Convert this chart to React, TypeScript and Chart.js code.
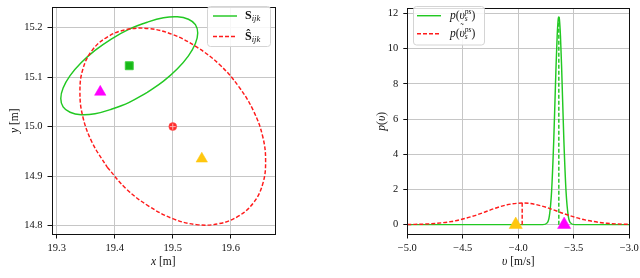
import React, { useEffect, useRef } from 'react';
import { Chart, registerables } from 'chart.js';
Chart.register(...registerables);

const FONT = "'Liberation Serif', 'DejaVu Serif', serif";

// ---------- left panel data ----------
const leftXTicks = [19.3, 19.4, 19.5, 19.6];
const leftYTicks = [14.8, 14.9, 15.0, 15.1, 15.2];

const sEllipseX = [19.456, 19.484, 19.508, 19.527, 19.539, 19.543, 19.539, 19.527, 19.508, 19.484, 19.456, 19.425, 19.394, 19.366, 19.342, 19.323, 19.311, 19.307, 19.311, 19.323, 19.342, 19.366, 19.394, 19.425, 19.456];
const sEllipseY = [15.069, 15.092, 15.117, 15.143, 15.168, 15.189, 15.206, 15.217, 15.222, 15.220, 15.211, 15.197, 15.177, 15.154, 15.129, 15.103, 15.078, 15.057, 15.040, 15.029, 15.024, 15.026, 15.035, 15.049, 15.069];

const sHatEllipseX = [19.387, 19.420, 19.459, 19.500, 19.541, 19.580, 19.613, 19.639, 19.655, 19.660, 19.655, 19.639, 19.613, 19.580, 19.541, 19.500, 19.459, 19.420, 19.387, 19.361, 19.345, 19.340, 19.345, 19.361, 19.387];
const sHatEllipseY = [14.918, 14.874, 14.839, 14.814, 14.802, 14.804, 14.819, 14.846, 14.884, 14.930, 14.980, 15.032, 15.082, 15.126, 15.161, 15.186, 15.198, 15.196, 15.181, 15.154, 15.116, 15.070, 15.020, 14.968, 14.918];

const squarePos = [19.425, 15.123];
const circlePos = [19.5, 15.0];
const magentaPos = [19.375, 15.07];
const yellowPos = [19.55, 14.935];

// ---------- right panel data ----------
const rightXTicks = [-5.0, -4.5, -4.0, -3.5, -3.0];
const rightYTicks = [0, 2, 4, 6, 8, 10, 12];

const greenPdfV = [-5.0, -3.78, -3.74, -3.72, -3.70, -3.68, -3.66, -3.65, -3.64, -3.635, -3.63, -3.62, -3.61, -3.59, -3.57, -3.55, -3.53, -3.49, -3.0];
const greenPdfP = [0, 0, 0.1, 0.5, 1.9, 4.9, 9.0, 10.7, 11.7, 11.8, 11.7, 10.7, 9.0, 4.9, 1.9, 0.5, 0.1, 0, 0];

const redPdfV = [-5.0, -4.8, -4.6, -4.5, -4.4, -4.3, -4.2, -4.1, -4.0, -3.965, -3.9, -3.8, -3.7, -3.6, -3.5, -3.4, -3.2, -3.0];
const redPdfP = [0.008, 0.045, 0.18, 0.32, 0.50, 0.72, 0.95, 1.13, 1.22, 1.23, 1.21, 1.08, 0.88, 0.65, 0.44, 0.27, 0.077, 0.015];

const greenMean = [-3.635, 11.8];
const redMean = [-3.965, 1.23];
const yellowV = [-4.023, 0];
const magentaV = [-3.587, 0];

// ---------- styles ----------
const GREEN = '#22c822';
const RED = '#ff1a1a';
const MAGENTA = '#ff00ff';
const YELLOW = '#ffc70f';
const GRID = '#c6c6c6';
const INK = '#111111';
const LW = 1.45;

const pts = (xs: number[], ys: number[]) => xs.map((x, i) => ({ x, y: ys[i] }));

type Run = { t: string; font: string; dy?: number; stack?: boolean; over?: boolean };

function layoutRuns(ctx: CanvasRenderingContext2D, runs: Run[], x: number, y: number, draw: boolean) {
  let cx = x;
  let prevStart = x;
  let prevW = 0;
  for (const r of runs) {
    ctx.font = r.font;
    const w = ctx.measureText(r.t).width;
    let sx: number;
    if (r.over) {
      sx = prevStart + (prevW - w) / 2;
      if (draw) ctx.fillText(r.t, sx, y + (r.dy || 0));
      continue;
    }
    if (r.stack) {
      sx = prevStart;
      if (draw) ctx.fillText(r.t, sx, y + (r.dy || 0));
      cx = Math.max(cx, sx + w);
      continue;
    }
    sx = cx;
    if (draw) ctx.fillText(r.t, sx, y + (r.dy || 0));
    prevStart = sx;
    prevW = w;
    cx = sx + w;
  }
  return cx - x;
}

function drawRuns(ctx: CanvasRenderingContext2D, runs: Run[], x: number, y: number, align: 'left' | 'center' = 'left') {
  ctx.save();
  ctx.textAlign = 'left';
  ctx.textBaseline = 'middle';
  ctx.fillStyle = INK;
  let sx = x;
  if (align === 'center') {
    const w = layoutRuns(ctx, runs, 0, 0, false);
    sx = x - w / 2;
  }
  layoutRuns(ctx, runs, sx, y, true);
  ctx.restore();
}

function drawRotatedRuns(ctx: CanvasRenderingContext2D, runs: Run[], x: number, y: number) {
  ctx.save();
  ctx.translate(x, y);
  ctx.rotate(-Math.PI / 2);
  drawRuns(ctx, runs, 0, 0, 'center');
  ctx.restore();
}

function roundRect(ctx: CanvasRenderingContext2D, x: number, y: number, w: number, h: number, r: number) {
  ctx.beginPath();
  ctx.moveTo(x + r, y);
  ctx.lineTo(x + w - r, y);
  ctx.quadraticCurveTo(x + w, y, x + w, y + r);
  ctx.lineTo(x + w, y + h - r);
  ctx.quadraticCurveTo(x + w, y + h, x + w - r, y + h);
  ctx.lineTo(x + r, y + h);
  ctx.quadraticCurveTo(x, y + h, x, y + h - r);
  ctx.lineTo(x, y + r);
  ctx.quadraticCurveTo(x, y, x + r, y);
  ctx.closePath();
}

type LegendItem = { color: string; dash: number[]; runs: Run[] };

function drawLegend(ctx: CanvasRenderingContext2D, box: { x: number; y: number; w: number; h: number }, items: LegendItem[], rowY: number[], lineX: [number, number], textX: number) {
  ctx.save();
  roundRect(ctx, box.x, box.y, box.w, box.h, 3);
  ctx.fillStyle = 'rgba(255,255,255,0.85)';
  ctx.fill();
  ctx.strokeStyle = '#d4d4d4';
  ctx.lineWidth = 1;
  ctx.stroke();
  items.forEach((it, i) => {
    ctx.beginPath();
    ctx.setLineDash(it.dash);
    ctx.strokeStyle = it.color;
    ctx.lineWidth = LW;
    ctx.moveTo(lineX[0], rowY[i]);
    ctx.lineTo(lineX[1], rowY[i]);
    ctx.stroke();
    ctx.setLineDash([]);
    drawRuns(ctx, it.runs, textX, rowY[i]);
  });
  ctx.restore();
}

function framePlugin(id: string, extra: (chart: any) => void) {
  return {
    id,
    afterDraw(chart: any) {
      const ctx = chart.ctx as CanvasRenderingContext2D;
      const a = chart.chartArea;
      ctx.save();
      ctx.strokeStyle = INK;
      ctx.lineWidth = 1;
      ctx.strokeRect(Math.round(a.left) + 0.5, Math.round(a.top) + 0.5, Math.round(a.right - a.left), Math.round(a.bottom - a.top));
      ctx.restore();
      extra(chart);
    },
  };
}

function axisOpts(min: number, max: number, ticks: number[], fmt: (v: number) => string, size: number, isY: boolean) {
  return {
    type: 'linear',
    min,
    max,
    afterBuildTicks: (axis: any) => {
      axis.ticks = ticks.map((v) => ({ value: v }));
    },
    afterFit: (scale: any) => {
      if (isY) {
        scale.width = size;
        scale.paddingTop = 0;
        scale.paddingBottom = 0;
      } else {
        scale.height = size;
        scale.paddingLeft = 0;
        scale.paddingRight = 0;
      }
    },
    border: { display: false },
    grid: { color: GRID, lineWidth: 1, tickColor: INK, tickLength: 4, drawTicks: true },
    ticks: {
      autoSkip: false,
      maxRotation: 0,
      padding: isY ? 5 : 3,
      color: INK,
      font: { family: FONT, size: 10.5 },
      callback: (v: any) => fmt(Number(v)),
    },
  };
}

const minus = (s: string) => s.replace('-', '\u2212');

const it = (s: number) => `italic ${s}px ${FONT}`;
const rm = (s: number) => `${s}px ${FONT}`;
const bf = (s: number) => `bold ${s}px ${FONT}`;

function LeftChart() {
  const ref = useRef<HTMLCanvasElement>(null);
  useEffect(() => {
    const canvas = ref.current!;
    const chart = new Chart(canvas, {
      type: 'scatter',
      data: {
        datasets: [
          { data: [{ x: circlePos[0], y: circlePos[1] }], pointStyle: 'cross', pointRadius: 3, borderColor: '#ffb3b3', borderWidth: 1, backgroundColor: 'transparent' } as any,
          { data: [{ x: circlePos[0], y: circlePos[1] }], pointStyle: 'circle', pointRadius: 4, backgroundColor: '#ff2a2a', borderColor: '#ff5a5a', borderWidth: 0.5 },
          { data: [{ x: squarePos[0], y: squarePos[1] }], pointStyle: 'rect', pointRadius: 5.6, backgroundColor: '#18b818', borderColor: '#3ccf3c', borderWidth: 1 },
          { data: [{ x: magentaPos[0], y: magentaPos[1] }], pointStyle: 'triangle', pointRadius: 6.6, backgroundColor: MAGENTA, borderColor: MAGENTA, borderWidth: 0.5 },
          { data: [{ x: yellowPos[0], y: yellowPos[1] }], pointStyle: 'triangle', pointRadius: 6.6, backgroundColor: YELLOW, borderColor: YELLOW, borderWidth: 0.5 },
          { data: pts(sHatEllipseX, sHatEllipseY), showLine: true, borderColor: RED, borderWidth: LW, borderDash: [4, 2], pointRadius: 0, tension: 0.4, fill: false },
          { data: pts(sEllipseX, sEllipseY), showLine: true, borderColor: GREEN, borderWidth: LW, pointRadius: 0, tension: 0.4, fill: false },
        ],
      },
      options: {
        animation: false,
        responsive: false,
        devicePixelRatio: 1,
        events: [],
        layout: { padding: { top: 2, right: 6.5, left: 0, bottom: 0 } },
        plugins: { legend: { display: false }, tooltip: { enabled: false } },
        scales: {
          x: axisOpts(19.291, 19.676, leftXTicks, (v) => v.toFixed(1), 43.5, false),
          y: axisOpts(14.782, 15.2415, leftYTicks, (v) => v.toFixed(1), 51.5, true),
        } as any,
      },
      plugins: [
        framePlugin('leftFrame', (c: any) => {
          const ctx = c.ctx as CanvasRenderingContext2D;
          const a = c.chartArea;
          drawRuns(ctx, [{ t: 'x', font: it(11.5) }, { t: ' [m]', font: rm(11.5) }], (a.left + a.right) / 2, 262, 'center');
          drawRotatedRuns(ctx, [{ t: 'y', font: it(11.5) }, { t: ' [m]', font: rm(11.5) }], 15, (a.top + a.bottom) / 2);
          drawLegend(
            ctx,
            { x: 207.5, y: 6.5, w: 63, h: 40 },
            [
              { color: GREEN, dash: [], runs: [{ t: 'S', font: bf(12) }, { t: 'ijk', font: it(8.5), dy: 3 }] },
              { color: RED, dash: [4, 2], runs: [{ t: 'Ŝ', font: bf(12) }, { t: 'ijk', font: it(8.5), dy: 3 }] },
            ],
            [16, 36.5],
            [213, 237],
            245,
          );
        }),
      ],
    } as any);
    return () => chart.destroy();
  }, []);
  return <canvas ref={ref} width={282} height={278} style={{ position: 'absolute', left: 0, top: 0, width: 282, height: 278 }} />;
}

function RightChart() {
  const ref = useRef<HTMLCanvasElement>(null);
  useEffect(() => {
    const canvas = ref.current!;
    const chart = new Chart(canvas, {
      type: 'scatter',
      data: {
        datasets: [
          { data: [{ x: yellowV[0], y: yellowV[1] }], pointStyle: 'triangle', pointRadius: 7.6, backgroundColor: YELLOW, borderColor: YELLOW, borderWidth: 0.5, clip: false } as any,
          { data: [{ x: magentaV[0], y: magentaV[1] }], pointStyle: 'triangle', pointRadius: 7.6, backgroundColor: MAGENTA, borderColor: MAGENTA, borderWidth: 0.5, clip: false } as any,
          { data: [{ x: greenMean[0], y: 0 }, { x: greenMean[0], y: greenMean[1] }], showLine: true, borderColor: GREEN, borderWidth: LW, borderDash: [4, 2], pointRadius: 0 },
          { data: [{ x: redMean[0], y: 0 }, { x: redMean[0], y: redMean[1] }], showLine: true, borderColor: RED, borderWidth: LW, borderDash: [4, 2], pointRadius: 0 },
          { data: pts(redPdfV, redPdfP), showLine: true, borderColor: RED, borderWidth: LW, borderDash: [4, 2], pointRadius: 0, cubicInterpolationMode: 'monotone' },
          { data: pts(greenPdfV, greenPdfP), showLine: true, borderColor: GREEN, borderWidth: LW, pointRadius: 0, cubicInterpolationMode: 'monotone' },
        ],
      },
      options: {
        animation: false,
        responsive: false,
        devicePixelRatio: 1,
        events: [],
        layout: { padding: { top: 2, right: 10.7, left: 0, bottom: 0 } },
        plugins: { legend: { display: false }, tooltip: { enabled: false } },
        scales: {
          x: axisOpts(-5, -3, rightXTicks, (v) => minus(v.toFixed(1)), 43.5, false),
          y: axisOpts(-0.56, 12.31, rightYTicks, (v) => String(Math.round(v)), 37.3, true),
        } as any,
      },
      plugins: [
        framePlugin('rightFrame', (c: any) => {
          const ctx = c.ctx as CanvasRenderingContext2D;
          const a = c.chartArea;
          drawRuns(ctx, [{ t: 'υ', font: it(11.5) }, { t: ' [m/s]', font: rm(11.5) }], (a.left + a.right) / 2, 262, 'center');
          drawRotatedRuns(ctx, [{ t: 'p', font: it(11.5) }, { t: '(', font: rm(11.5) }, { t: 'υ', font: it(11.5) }, { t: ')', font: rm(11.5) }], 11.7, (a.top + a.bottom) / 2);
          drawLegend(
            ctx,
            { x: 43.5, y: 6.5, w: 71, h: 38.5 },
            [
              {
                color: GREEN,
                dash: [],
                runs: [
                  { t: 'p', font: it(11.5) },
                  { t: '(', font: rm(11.5) },
                  { t: 'υ', font: it(11.5) },
                  { t: 'ps', font: it(7.5), dy: -4 },
                  { t: 's', font: it(7.5), dy: 3, stack: true },
                  { t: ')', font: rm(11.5) },
                ],
              },
              {
                color: RED,
                dash: [4, 2],
                runs: [
                  { t: 'p', font: it(11.5) },
                  { t: '(', font: rm(11.5) },
                  { t: 'υ', font: it(11.5) },
                  { t: '˜', font: rm(10), dy: -5.5, over: true },
                  { t: 'ps', font: it(7.5), dy: -4 },
                  { t: 's', font: it(7.5), dy: 3, stack: true },
                  { t: ')', font: rm(11.5) },
                ],
              },
            ],
            [15.7, 33.8],
            [47, 71],
            80,
          );
        }),
      ],
    } as any);
    return () => chart.destroy();
  }, []);
  return <canvas ref={ref} width={270} height={278} style={{ position: 'absolute', left: 370, top: 0, width: 270, height: 278 }} />;
}

export default function App() {
  return (
    <div style={{ position: 'absolute', left: 0, top: 0, width: 640, height: 278, background: '#fff', overflow: 'hidden' }}>
      <LeftChart />
      <RightChart />
    </div>
  );
}
